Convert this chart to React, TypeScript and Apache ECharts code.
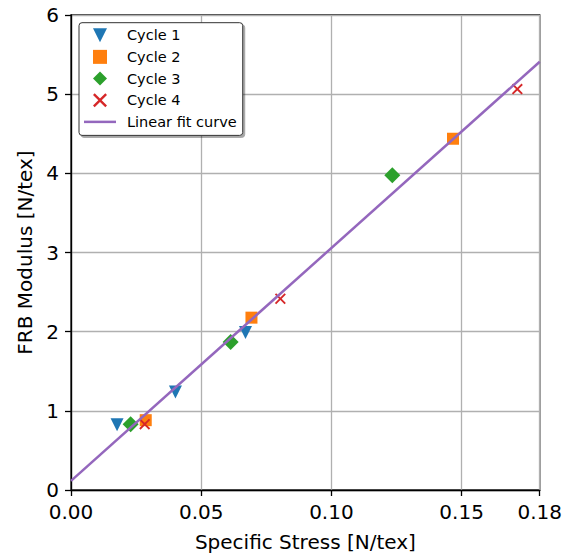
import React, { useEffect, useRef } from "react";
import * as echarts from "echarts";

const cycle1X = [0.0177, 0.0401, 0.067];
const cycle1Y = [0.823, 1.239, 1.988];
const cycle2X = [0.0287, 0.0693, 0.1467];
const cycle2Y = [0.882, 2.177, 4.437];
const cycle3X = [0.0229, 0.0613, 0.1234];
const cycle3Y = [0.832, 1.869, 3.975];
const cycle4X = [0.0283, 0.0804, 0.1714];
const cycle4Y = [0.832, 2.416, 5.064];
const fitX = [0, 0.18];
const fitY = [0.115, 5.41];

const seriesNames = ["Cycle 1", "Cycle 2", "Cycle 3", "Cycle 4", "Linear fit curve"];

const FONT = "DejaVu Sans";
const TRI_DOWN = "path://M0,0 L10,0 L5,10 Z";
const SQUARE = "path://M0,0 L10,0 L10,10 L0,10 Z";
const DIAMOND = "path://M5,0 L10,5 L5,10 L0,5 Z";
const XMARK =
  "path://M0,1.2 L1.2,0 L5,3.8 L8.8,0 L10,1.2 L6.2,5 L10,8.8 L8.8,10 L5,6.2 L1.2,10 L0,8.8 L3.8,5 Z";
const LINE_ICON = "path://M0,0 L32,0 L32,2.5 L0,2.5 Z";

const pairs = (xs: number[], ys: number[]) => xs.map((x, i) => [x, ys[i]]);

export default function App() {
  const ref = useRef<HTMLDivElement>(null);

  useEffect(() => {
    document.body.style.margin = "0";
    if (!ref.current) return;
    const chart = echarts.init(ref.current, undefined, { renderer: "svg" });

    const scatter = (name: string, xs: number[], ys: number[], symbol: string, size: number, color: string) => ({
      name,
      type: "scatter",
      data: pairs(xs, ys),
      symbol,
      symbolSize: size,
      symbolKeepAspect: true,
      itemStyle: { color, opacity: 1 },
      z: 2,
    });

    chart.setOption({
      animation: false,
      textStyle: { fontFamily: FONT },
      grid: {
        left: 71,
        right: 25,
        top: 15,
        bottom: 66,
        show: true,
        borderColor: "#000",
        borderWidth: 1.3,
        backgroundColor: "transparent",
      },
      legend: {
        data: [
          { name: seriesNames[0] },
          { name: seriesNames[1] },
          { name: seriesNames[2] },
          { name: seriesNames[3] },
          { name: seriesNames[4], icon: LINE_ICON },
        ],
        orient: "vertical",
        left: 79,
        top: 22.7,
        itemWidth: 32,
        itemHeight: 14,
        itemGap: 6.67,
        padding: [5, 6, 6, 5],
        symbolKeepAspect: true,
        backgroundColor: "#fff",
        borderColor: "#333",
        borderWidth: 1,
        borderRadius: 3,
        shadowColor: "rgba(0,0,0,0.35)",
        shadowOffsetX: 2,
        shadowOffsetY: 2,
        shadowBlur: 0,
        textStyle: {
          fontFamily: FONT,
          fontSize: 14.5,
          color: "#000",
          padding: [0, 0, 0, 6],
        },
      },
      xAxis: {
        type: "value",
        min: 0,
        max: 0.18,
        interval: 0.05,
        name: "Specific Stress [N/tex]",
        nameLocation: "middle",
        nameGap: 42,
        nameTextStyle: { fontFamily: FONT, fontSize: 20, color: "#000" },
        axisLine: { show: true, onZero: false, lineStyle: { color: "#000", width: 1.3 } },
        axisTick: { show: true, inside: false, length: 6, lineStyle: { color: "#000", width: 1.3 } },
        axisLabel: {
          fontFamily: FONT,
          fontSize: 20,
          color: "#000",
          margin: 12,
          showMaxLabel: true,
          showMinLabel: true,
          formatter: (v: number) => v.toFixed(2),
        },
        splitLine: { show: true, lineStyle: { color: "#b0b0b0", width: 1.3 } },
      },
      yAxis: {
        type: "value",
        min: 0,
        max: 6,
        interval: 1,
        name: "FRB Modulus [N/tex]",
        nameLocation: "middle",
        nameGap: 28,
        nameTextStyle: { fontFamily: FONT, fontSize: 20, color: "#000" },
        axisLine: { show: true, onZero: false, lineStyle: { color: "#000", width: 1.3 } },
        axisTick: { show: true, inside: false, length: 6, lineStyle: { color: "#000", width: 1.3 } },
        axisLabel: { fontFamily: FONT, fontSize: 20, color: "#000", margin: 12 },
        splitLine: { show: true, lineStyle: { color: "#b0b0b0", width: 1.3 } },
      },
      series: [
        scatter("Cycle 1", cycle1X, cycle1Y, TRI_DOWN, 13, "#1f77b4"),
        scatter("Cycle 2", cycle2X, cycle2Y, SQUARE, 12, "#ff7f0e"),
        scatter("Cycle 3", cycle3X, cycle3Y, DIAMOND, 16, "#2ca02c"),
        scatter("Cycle 4", cycle4X, cycle4Y, XMARK, 11, "#d62728"),
        {
          name: "Linear fit curve",
          type: "line",
          data: pairs(fitX, fitY),
          symbol: "none",
          showSymbol: false,
          lineStyle: { color: "#9467bd", width: 2.5 },
          itemStyle: { color: "#9467bd" },
          z: 3,
        },
      ],
    });

    return () => chart.dispose();
  }, []);

  return <div ref={ref} style={{ width: 565, height: 557 }} />;
}
